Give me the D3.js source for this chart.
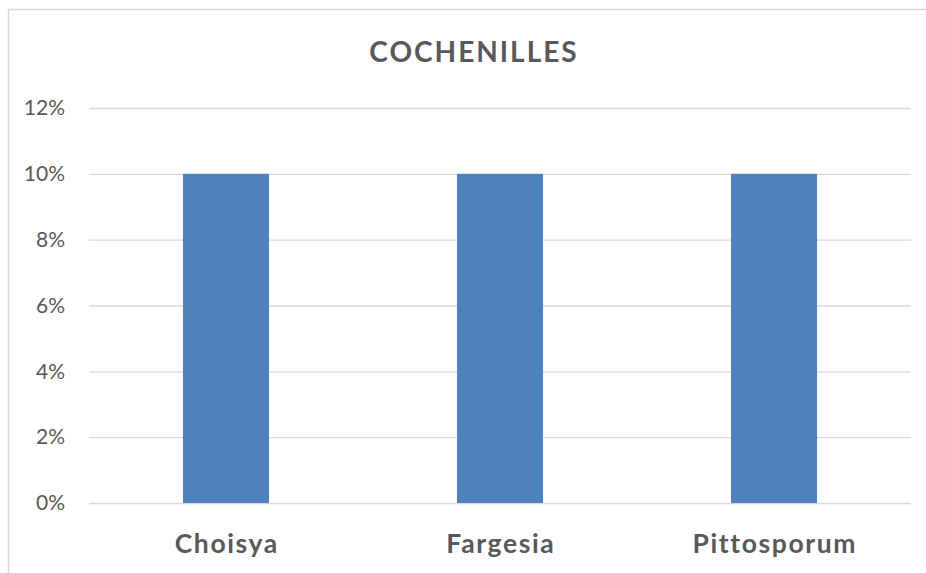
<!DOCTYPE html>
<html><head><meta charset="utf-8">
<script src="https://cdn.jsdelivr.net/npm/d3@7"></script>
<style>body{margin:0;background:#fff}svg{display:block}text{font-family:Lato,"Open Sans",sans-serif}</style>
</head><body><svg id="c" width="926" height="573"></svg>
<script>
const categories = ["Choisya", "Fargesia", "Pittosporum"];
const values = [0.10, 0.10, 0.10];
const yTicks = [0, 0.02, 0.04, 0.06, 0.08, 0.10, 0.12];
const title = "COCHENILLES";

(function () {
const svg = d3.select("#c");
svg.append("rect").attr("x", 8.5).attr("y", 9.5).attr("width", 930).attr("height", 570)
  .attr("fill", "#fff").attr("stroke", "#d9d9d9").attr("stroke-width", 1.5);

const mLeft = 89, mRight = 911, mTop = 108, mBottom = 503;
const x = d3.scaleBand().domain(categories).range([mLeft, mRight]).padding(0);
const y = d3.scaleLinear().domain([0, 0.12]).range([mBottom, mTop]);

const yAxis = svg.append("g").attr("transform", `translate(${mLeft},0)`)
  .call(d3.axisLeft(y).tickValues(yTicks).tickFormat(d3.format(".0%")).tickSize(-(mRight - mLeft)).tickPadding(24));
yAxis.select(".domain").remove();
yAxis.selectAll(".tick line").attr("stroke", "#d9d9d9").attr("stroke-width", 1.3);
yAxis.selectAll(".tick text").attr("fill", "#595959").attr("font-size", 21).style("font-family", "Lato");

const bw = x.bandwidth() * 0.314;
svg.append("g").selectAll("rect").data(categories).join("rect")
  .attr("x", (d) => x(d) + x.bandwidth() / 2 - bw / 2)
  .attr("y", (d, i) => y(values[i]))
  .attr("width", bw)
  .attr("height", (d, i) => y(0) - y(values[i]))
  .attr("fill", "#4f81bd");

const xAxis = svg.append("g").attr("transform", `translate(0,${mBottom})`)
  .call(d3.axisBottom(x).tickSize(0).tickPadding(31));
xAxis.select(".domain").remove();
xAxis.selectAll(".tick text").attr("fill", "#595959").attr("font-size", 26.5).attr("font-weight", "bold")
  .style("font-family", "Lato").style("letter-spacing", "1.6px").attr("dx", 0.8);

svg.append("text").attr("x", 474).attr("y", 62).attr("text-anchor", "middle")
  .attr("fill", "#595959").attr("font-size", 28).attr("font-weight", "bold")
  .style("letter-spacing", "2px").text(title);
})();
</script></body></html>
